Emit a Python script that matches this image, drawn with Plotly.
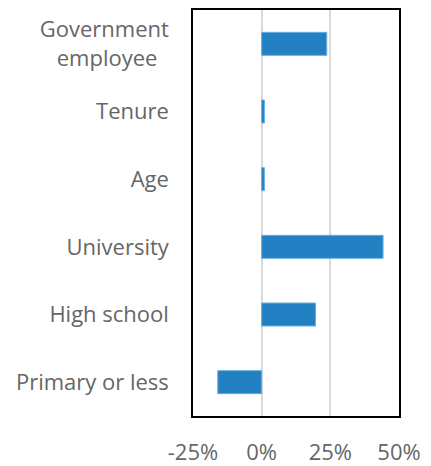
import plotly.graph_objects as go

categories = ["Primary or less", "High school", "University", "Age", "Tenure",
              "Government<br>employee\u00a0\u00a0"]
values = [-0.16, 0.196, 0.442, 0.01, 0.01, 0.237]
x_ticks = [-0.25, 0, 0.25, 0.5]
x_tick_labels = ["-25%", "0%", "25%", "50%"]

fig = go.Figure(go.Bar(
    x=values, y=categories, orientation="h",
    marker=dict(color="#2280c3", line=dict(color="#6aaee0", width=1)),
))

font = dict(family="Open Sans, Noto Sans, sans-serif", size=22, color="#666666")
fig.update_layout(
    width=431, height=466,
    margin=dict(l=193, r=32, t=10, b=50, autoexpand=False),
    plot_bgcolor="white", paper_bgcolor="white",
    bargap=0.66, showlegend=False, font=font,
)
fig.update_xaxes(
    range=[-0.25, 0.5], tickvals=x_ticks, ticktext=x_tick_labels,
    showgrid=True, gridcolor="#d9d9d9", gridwidth=1.5,
    zeroline=True, zerolinecolor="#d9d9d9", zerolinewidth=1.5,
    showline=True, linecolor="black", linewidth=1.5, mirror=True,
    ticks="", ticklabelstandoff=16, tickfont=font, automargin=False,
)
fig.update_yaxes(
    showgrid=False, showline=True, linecolor="black", linewidth=1.5, mirror=True,
    ticks="", ticklabelstandoff=18, tickfont=font, automargin=False,
)
fig.write_html(
    "out.html",
    config={"displayModeBar": False},
    post_script="document.body.style.margin='0';document.body.style.overflow='hidden';",
)
